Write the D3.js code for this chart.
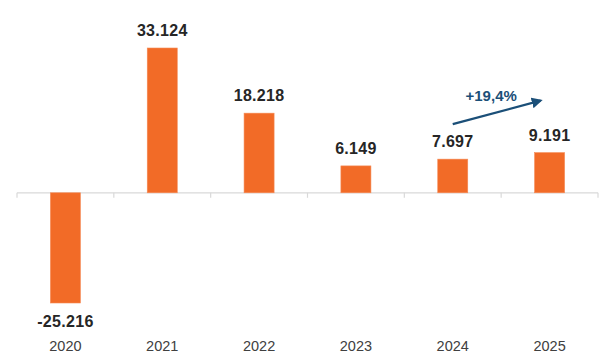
<!DOCTYPE html>
<html>
<head>
<meta charset="utf-8">
<script src="https://cdn.jsdelivr.net/npm/d3@7"></script>
<style>
  body { margin: 0; background: #fff; }
  svg { display: block; font-family: "Liberation Sans", Arial, sans-serif; }
</style>
</head>
<body>
<svg id="chart" width="600" height="362"></svg>
<script>
const years = ['2020', '2021', '2022', '2023', '2024', '2025'];
const values = [-25216, 33124, 18218, 6149, 7697, 9191];
const labels = ['-25.216', '33.124', '18.218', '6.149', '7.697', '9.191'];
const growthLabel = '+19,4%';

const svg = d3.select('#chart');

const escalaX = d3.scaleBand()
    .domain(years)
    .range([17, 598])
    .paddingInner(0.69)
    .paddingOuter(0.345);

const escalaY = d3.scaleLinear()
    .domain([-25216, 33124])
    .range([303, 48]);

const y0 = escalaY(0);

// linea base con marcas entre categorias
svg.append('line')
    .attr('x1', 17).attr('x2', 598)
    .attr('y1', y0).attr('y2', y0)
    .attr('stroke', '#d9d9d9')
    .attr('stroke-width', 1.2);

const step = escalaX.step();
const bordes = years.map((d, i) => 17 + i * step).concat([598]);
svg.selectAll('.tick-mark')
    .data(bordes).enter()
    .append('line')
    .attr('class', 'tick-mark')
    .attr('x1', d => d).attr('x2', d => d)
    .attr('y1', y0).attr('y2', y0 + 5)
    .attr('stroke', '#d9d9d9')
    .attr('stroke-width', 1.2);

// barras
svg.selectAll('.bar')
    .data(values).enter()
    .append('rect')
    .attr('class', 'bar')
    .attr('x', (d, i) => escalaX(years[i]))
    .attr('width', escalaX.bandwidth())
    .attr('y', d => escalaY(Math.max(0, d)))
    .attr('height', d => Math.abs(escalaY(d) - y0))
    .attr('fill', '#f26b27')
    .attr('stroke', '#f58a55')
    .attr('stroke-width', 0.6);

// etiquetas de valor
svg.selectAll('.valor')
    .data(values).enter()
    .append('text')
    .attr('class', 'valor')
    .attr('x', (d, i) => escalaX(years[i]) + escalaX.bandwidth() / 2)
    .attr('y', d => d >= 0 ? escalaY(d) - 12 : escalaY(d) + 24)
    .attr('text-anchor', 'middle')
    .style('font-size', '16px')
    .style('font-weight', 'bold')
    .style('letter-spacing', '0.3px')
    .style('fill', '#262626')
    .text((d, i) => labels[i]);

// etiquetas de eje
svg.selectAll('.anio')
    .data(years).enter()
    .append('text')
    .attr('class', 'anio')
    .attr('x', d => escalaX(d) + escalaX.bandwidth() / 2)
    .attr('y', 351)
    .attr('text-anchor', 'middle')
    .style('font-size', '14.5px')
    .style('fill', '#404040')
    .text(d => d);

// flecha de crecimiento
svg.append('defs').append('marker')
    .attr('id', 'punta')
    .attr('viewBox', '0 0 10 10')
    .attr('refX', 8).attr('refY', 5)
    .attr('markerWidth', 5).attr('markerHeight', 5)
    .attr('orient', 'auto')
    .append('path')
    .attr('d', 'M0,0 L10,5 L0,10 z')
    .attr('fill', '#1b4f78');

const x4 = escalaX('2024') + escalaX.bandwidth() / 2;
const x5 = escalaX('2025') + escalaX.bandwidth() / 2;
svg.append('line')
    .attr('x1', x4).attr('y1', escalaY(values[4]) - 35)
    .attr('x2', x5 - 9).attr('y2', escalaY(values[5]) - 52)
    .attr('stroke', '#1b4f78')
    .attr('stroke-width', 2.2)
    .attr('marker-end', 'url(#punta)');

svg.append('text')
    .attr('x', (x4 + x5) / 2 - 10)
    .attr('y', escalaY(values[5]) - 52)
    .attr('text-anchor', 'middle')
    .style('font-size', '15px')
    .style('font-weight', 'bold')
    .style('fill', '#1b4f78')
    .text(growthLabel);
</script>
</body>
</html>
